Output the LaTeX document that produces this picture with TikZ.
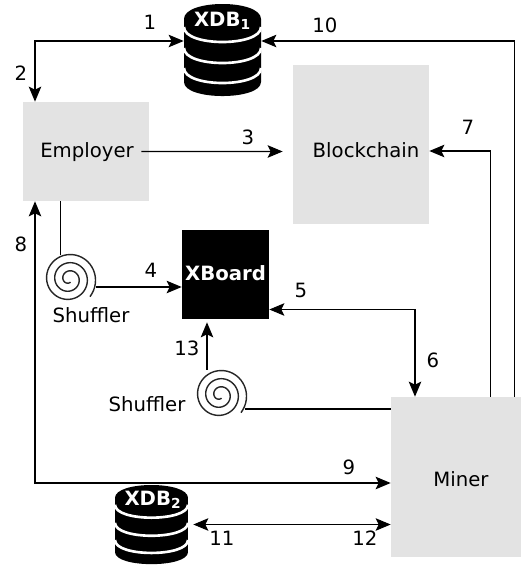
\documentclass[tikz,border=0pt]{standalone}
\usepackage{fontspec}
\setmainfont{DejaVu Sans}
\usepackage{xcolor}
\usetikzlibrary{arrows.meta, positioning}
\definecolor{boxgray}{HTML}{E3E3E3}

\begin{document}
\begin{tikzpicture}[
    x=0.02cm, y=-0.02cm,
    font=\fontsize{11.2}{13}\selectfont,
    >={Stealth[length=0.3cm,width=0.25cm,inset=0.06cm]},
    block/.style={rectangle, fill=boxgray, inner sep=0pt},
    blackblock/.style={rectangle, fill=black, inner sep=0pt},
    whitetext/.style={inner sep=0pt, text=white, font=\fontsize{11.2}{13}\selectfont\bfseries},
    dbnode/.style={rectangle, inner sep=0pt},
    spiralnode/.style={circle, inner sep=0pt, minimum size=1cm},
    num/.style={inner sep=0pt},
    arrow/.style={line width=0.6pt,->},
    biarrow/.style={line width=0.6pt,<->},
    plainline/.style={line width=0.6pt},
    pics/dbicon/.style={code={
        \fill[black] (-38.5,15) .. controls (-38.5,-5) and (38.5,-5) .. (38.5,15)
            -- (38.5,78) .. controls (38.5,96.7) and (-38.5,96.7) .. (-38.5,78) -- cycle;
        \foreach \y in {23,44,64}
            \draw[white, line width=1.5pt] (-38.5,\y) .. controls (-38.5,\y+20) and (38.5,\y+20) .. (38.5,\y);
    }},
    pics/spiralicon/.style={code={
        \draw [line width=0.8pt, black!85] plot [smooth, samples=140, domain=-40:1015, variable=\t]
            ({(27.4-0.0227*(\t+40))*cos(\t)},{-(27.4-0.0227*(\t+40))*sin(\t)});
    }}
]
\useasboundingbox (0,0) rectangle (522,565);

% Boxes
\node [block, minimum width=2.52cm, minimum height=1.98cm] (employer) at (86,151.5) {};
\node [block, minimum width=2.72cm, minimum height=3.18cm] (chain) at (361,144.5) {};
\node [blackblock, minimum width=1.74cm, minimum height=1.78cm] (xboard) at (225.5,274.5) {};
\node [block, minimum width=2.6cm, minimum height=3.2cm] (miner) at (456,477) {};
\node (employertext) at (87,152) {Employer};
\node (chaintext) at (366,150) {Blockchain};
\node (minertext) at (461,479) {Miner};
\node [whitetext] (xboardtext) at (225.5,273) {XBoard};

% Databases
\pic at (222.5,4) {dbicon};
\pic [xscale=0.948, yscale=0.86] at (151.5,485) {dbicon};
\node [dbnode, minimum width=1.54cm, minimum height=1.84cm] (xdb1) at (222.5,50) {};
\node [dbnode, minimum width=1.46cm, minimum height=1.58cm] (xdb2) at (151.5,524.5) {};
\node [whitetext] (xdb1text) at (222.5,21) {XDB\textsubscript{1}};
\node [whitetext] (xdb2text) at (153,500) {XDB\textsubscript{2}};

% Shufflers
\node [spiralnode] (shuf1) at (69,279) {};
\node [spiralnode] (shuf2) at (220,395) {};
\pic at (shuf1) {spiralicon};
\pic at (shuf2) {spiralicon};
\node (shuf1text) at (91,315) {Shuffler};
\node (shuf2text) at (147,404) {Shuffler};

% Connectors
\draw [biarrow] ([yshift=0.18cm]xdb1.west) -| (employer.north -| 35,0);
\draw [arrow] ([xshift=-0.14cm]miner.north east) |- ([yshift=0.18cm]xdb1.east);
\draw [arrow] ([xshift=-0.62cm]miner.north east) |- ([yshift=-0.13cm]chain.east);
\draw [arrow] ([xshift=-0.16cm]employer.east) -- ([xshift=-0.2cm,yshift=-0.14cm]chain.west);
\draw [biarrow] (employer.south -| 35,0) |- ([yshift=-0.12cm]miner.west);
\draw [plainline] (shuf1.110) -- (shuf1.110 |- employer.south);
\draw [arrow] ([xshift=0.04cm,yshift=-0.16cm]shuf1.east) -- ([yshift=-0.16cm]shuf1.east -| xboard.west);
\draw [biarrow] ([yshift=-0.7cm]xboard.east) -| (miner.north -| 415,0);
\draw [arrow] (shuf2.north -| 207,0) -- ([yshift=-0.06cm]xboard.south -| 207,0);
\draw [plainline] ([yshift=-0.28cm]shuf2.east) -- ([yshift=-0.28cm]shuf2.east -| miner.west);
\draw [biarrow] ([xshift=0.1cm]xdb2.east) -- (xdb2.east -| miner.west);

% Numbers
\node [num] (n1) at (150,22) {1};
\node [num] (n2) at (21,73) {2};
\node [num] (n3) at (248,137) {3};
\node [num] (n4) at (151,270) {4};
\node [num] (n5) at (301,290) {5};
\node [num] (n6) at (433,360) {6};
\node [num] (n7) at (468,127) {7};
\node [num] (n8) at (21,244) {8};
\node [num] (n9) at (349,467) {9};
\node [num] (n10) at (325,25) {10};
\node [num] (n11) at (222,538) {11};
\node [num] (n12) at (365,538) {12};
\node [num] (n13) at (187,348) {13};
\end{tikzpicture}
\end{document}
